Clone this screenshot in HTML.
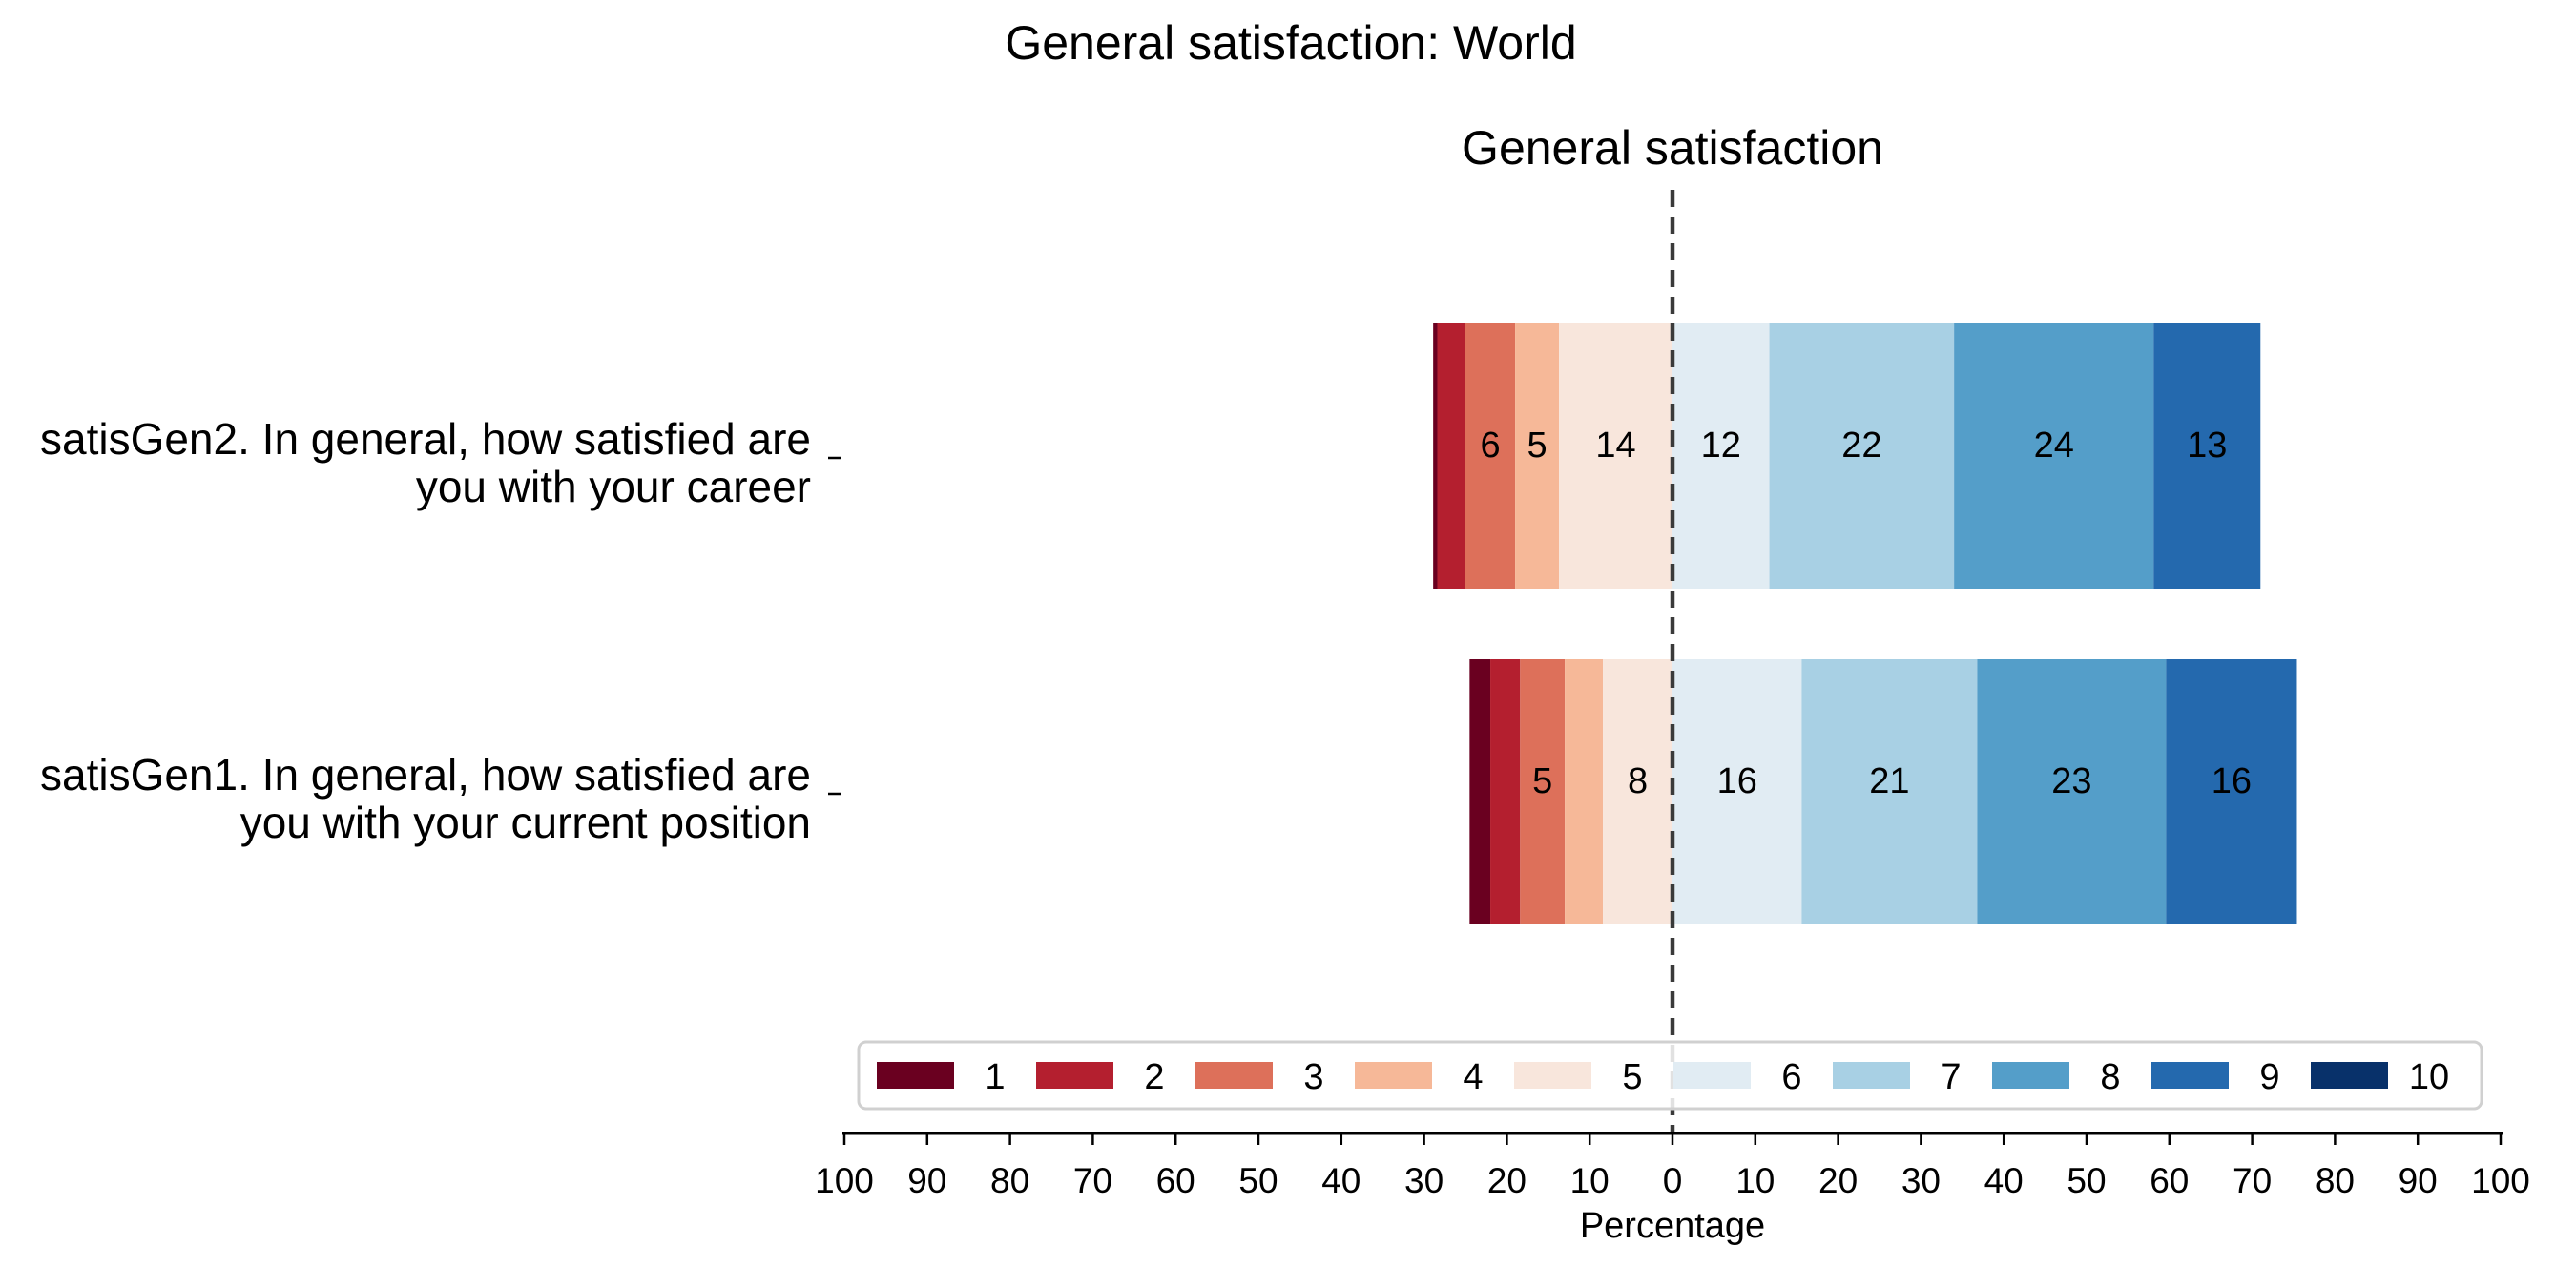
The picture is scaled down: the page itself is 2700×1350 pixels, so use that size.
<!DOCTYPE html>
<html><head><meta charset="utf-8"><style>
html,body{margin:0;padding:0;background:#fff}
svg{display:block;font-family:"Liberation Sans",Arial,sans-serif}
</style></head><body>
<svg id="chart" width="2700" height="1350" viewBox="0 0 2700 1350">
<text x="1353" y="62" font-size="50" text-anchor="middle">General satisfaction: World</text>
<text x="1753" y="172" font-size="50" text-anchor="middle">General satisfaction</text>
<g id="bars"></g>
<g id="labels"></g>
<line x1="1753" y1="199" x2="1753" y2="1187" stroke="#3a3a3a" stroke-width="4.5" stroke-dasharray="18,10"/>
<g id="legend"></g>
<g id="xaxis"></g>
<text x="1753" y="1297" font-size="38" text-anchor="middle">Percentage</text>
<g id="yaxis"></g>
</svg>
<script>
const categories = ["satisGen2","satisGen1"];
const catLine1 = ["satisGen2. In general, how satisfied are","satisGen1. In general, how satisfied are"];
const catLine2 = ["you with your career","you with your current position"];
const levels = ["1","2","3","4","5","6","7","8","9","10"];
const negValues = [[0.5,3.4,6.0,5.3,13.7],[2.5,3.6,5.4,4.6,8.4]];
const posValues = [[11.7,22.3,24.1,12.9,0],[15.6,21.2,22.8,15.8,0]];
const tickValues = [-100,-90,-80,-70,-60,-50,-40,-30,-20,-10,0,10,20,30,40,50,60,70,80,90,100];
const colors = ["#6a0020","#b41f2f","#dd705a","#f6b898","#f8e6dc","#e1ecf3","#a8d0e4","#549ec9","#2469ae","#08316a"];

const NS="http://www.w3.org/2000/svg";
const X0=1753, PXU=8.68;
function xs(v){return X0+v*PXU;}
const rowCenter=[478,830], barH=278;
function mk(tag,attrs,parent){const e=document.createElementNS(NS,tag);for(const k in attrs)e.setAttribute(k,attrs[k]);parent.appendChild(e);return e;}
const gb=document.getElementById('bars'), gl=document.getElementById('labels');
categories.forEach((c,i)=>{
  const y=rowCenter[i]-barH/2;
  const neg=negValues[i];
  let total=neg.reduce((a,b)=>a+b,0);
  let cur=-total;
  const segs=[];
  neg.forEach((v,j)=>{segs.push([cur,v,j]);cur+=v;});
  cur=0;
  posValues[i].forEach((v,j)=>{segs.push([cur,v,j+5]);cur+=v;});
  segs.forEach(([s,v,j])=>{
    if(v<=0)return;
    const r=mk('rect',{x:xs(s),y:y,width:v*PXU,height:barH,fill:colors[j]},gb);
    
    
    if(v>=5){
      const t=mk('text',{x:xs(s+v/2),y:rowCenter[i]+1,'font-size':38,'text-anchor':'middle',fill:'#000'},gl);
      t.textContent=Math.round(v);
      
      
    }
  });
});
const gy=document.getElementById('yaxis');
categories.forEach((c,i)=>{
  const t1=mk('text',{x:850,y:rowCenter[i]-2,'font-size':46,'text-anchor':'end'},gy);
  t1.textContent=catLine1[i];
  
  
  const t2=mk('text',{x:850,y:rowCenter[i]+48,'font-size':46,'text-anchor':'end'},gy);
  t2.textContent=catLine2[i];
  
  
  const tk=mk('line',{x1:868,x2:882,y1:rowCenter[i]+2,y2:rowCenter[i]+2,stroke:'#000','stroke-width':2.5},gy);
  
  
});
const gx=document.getElementById('xaxis');
const ax=mk('line',{x1:xs(-100)-2,x2:xs(100)+2,y1:1188,y2:1188,stroke:'#000','stroke-width':3},gx);


tickValues.forEach(v=>{
  const l=mk('line',{x1:xs(v),x2:xs(v),y1:1188,y2:1200,stroke:'#000','stroke-width':2.5},gx);
  
  
  const t=mk('text',{x:xs(v),y:1250,'font-size':37,'text-anchor':'middle'},gx);
  t.textContent=Math.abs(v);
  
  
});
const gleg=document.getElementById('legend');
const box=mk('rect',{x:900,y:1092,width:1701,height:70,rx:8,fill:'#fff','fill-opacity':0.85,stroke:'#d0d0d0','stroke-width':3},gleg);


levels.forEach((lv,j)=>{
  const x=919+j*167;
  const sw=mk('rect',{x:x,y:1113,width:81,height:28,fill:colors[j]},gleg);
  
  
  const t=mk('text',{x:x+124,y:1141,'font-size':38,'text-anchor':'middle'},gleg);
  t.textContent=lv;
  
  
});
</script>
</body></html>
